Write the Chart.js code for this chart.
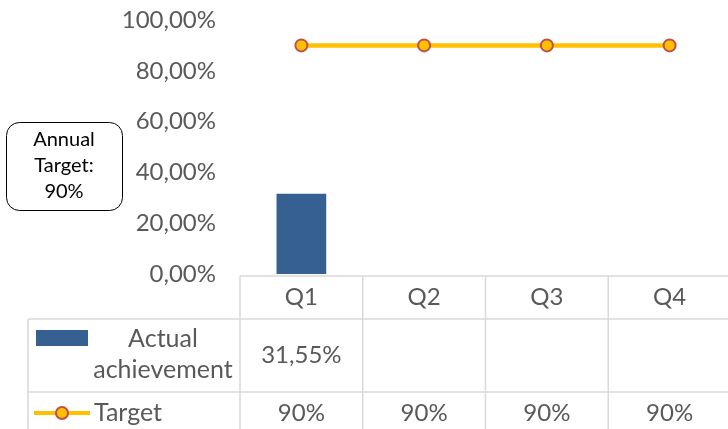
<!DOCTYPE html>
<html>
<head>
<meta charset="utf-8">
<script src="https://cdn.jsdelivr.net/npm/chart.js@4/dist/chart.umd.min.js"></script>
<style>
  html, body { margin: 0; padding: 0; background: #fff; overflow: hidden; }
  #wrap { width: 728px; height: 429px; position: relative; overflow: hidden; }
  #chart { width: 739px; height: 429px; display: block; }
</style>
</head>
<body>
<div id="wrap"><canvas id="chart" width="739" height="429"></canvas></div>
<script>
const quarters = ['Q1', 'Q2', 'Q3', 'Q4'];
const actual = [31.55, null, null, null];
const target = [90, 90, 90, 90];
const actualLabels = ['31,55%', '', '', ''];
const targetLabels = ['90%', '90%', '90%', '90%'];
const yTicks = [0, 20, 40, 60, 80, 100];

const FONT = 'Lato';
const TEXT = '#595959';
const GRID = '#D9D9D9';
const BLUE = '#365F92';
const GOLD = '#FFC000';
const RED = '#C0504D';

// draws the data table under the plot plus the callout box
const tablePlugin = {
  id: 'dataTable',
  afterDraw(chart) {
    const ctx = chart.ctx;
    const ca = chart.chartArea;
    const x = chart.scales.x;
    const colW = (ca.right - ca.left) / quarters.length;
    const top = ca.bottom + 2;
    const row1 = top + 43;
    const row2 = row1 + 73;
    const bottom = chart.height;
    const tableLeft = 28;

    ctx.save();
    ctx.strokeStyle = GRID;
    ctx.lineWidth = 1.5;
    ctx.beginPath();
    ctx.moveTo(ca.left, top); ctx.lineTo(ca.right, top);
    ctx.moveTo(tableLeft, row1); ctx.lineTo(ca.right, row1);
    ctx.moveTo(tableLeft, row2); ctx.lineTo(ca.right, row2);
    ctx.moveTo(tableLeft, row1); ctx.lineTo(tableLeft, bottom);
    for (let i = 0; i <= quarters.length; i++) {
      const cx = ca.left + i * colW;
      ctx.moveTo(cx, top); ctx.lineTo(cx, bottom);
    }
    ctx.stroke();

    ctx.fillStyle = TEXT;
    ctx.font = '24px ' + FONT;
    ctx.textAlign = 'center';
    ctx.textBaseline = 'middle';
    quarters.forEach((q, i) => {
      const cx = x.getPixelForValue(i);
      ctx.fillText(q, cx, (top + row1) / 2);
      if (actualLabels[i]) ctx.fillText(actualLabels[i], cx, (row1 + row2) / 2);
      ctx.fillText(targetLabels[i], cx, row2 + 21);
    });

    // legend keys
    ctx.font = '25px ' + FONT;
    ctx.fillText('Actual', 163, row1 + 20);
    ctx.fillText('achievement', 163, row1 + 51);
    ctx.fillStyle = BLUE;
    ctx.fillRect(36, row1 + 11, 52, 16);

    ctx.strokeStyle = GOLD;
    ctx.lineWidth = 4;
    ctx.beginPath();
    ctx.moveTo(34, row2 + 21); ctx.lineTo(90, row2 + 21);
    ctx.stroke();
    ctx.beginPath();
    ctx.arc(62, row2 + 21, 6, 0, Math.PI * 2);
    ctx.fillStyle = GOLD;
    ctx.fill();
    ctx.lineWidth = 2;
    ctx.strokeStyle = RED;
    ctx.stroke();
    ctx.fillStyle = TEXT;
    ctx.textAlign = 'left';
    ctx.fillText('Target', 94, row2 + 21);

    // callout
    ctx.beginPath();
    ctx.roundRect(6.5, 122.5, 116, 88, 13);
    ctx.fillStyle = '#fff';
    ctx.fill();
    ctx.strokeStyle = '#000';
    ctx.lineWidth = 1;
    ctx.stroke();
    ctx.fillStyle = '#000';
    ctx.font = '20px ' + FONT;
    ctx.textAlign = 'center';
    ctx.fillText('Annual', 64, 140);
    ctx.fillText('Target:', 64, 166);
    ctx.fillText('90%', 64, 192);
    ctx.restore();
  }
};

function noPad(scale) {
  scale.paddingTop = 0;
  scale.paddingBottom = 0;
  scale.paddingLeft = 0;
  scale.paddingRight = 0;
}

new Chart(document.getElementById('chart'), {
  type: 'bar',
  data: {
    labels: quarters,
    datasets: [
      {
        type: 'line',
        label: 'Target',
        data: target,
        borderColor: GOLD,
        borderWidth: 4.5,
        backgroundColor: GOLD,
        pointBackgroundColor: GOLD,
        pointBorderColor: RED,
        pointBorderWidth: 2,
        pointRadius: 6,
        order: 0
      },
      {
        label: 'Actual achievement',
        data: actual,
        backgroundColor: BLUE,
        barPercentage: 0.405,
        categoryPercentage: 1,
        order: 1
      }
    ]
  },
  options: {
    responsive: false,
    animation: false,
    layout: { padding: { top: 20, bottom: 155, left: 0, right: 1 } },
    plugins: { legend: { display: false }, tooltip: { enabled: false } },
    scales: {
      x: { display: false, afterFit: noPad },
      y: {
        min: 0,
        max: 100,
        afterFit(scale) { scale.width = 240; noPad(scale); },
        afterBuildTicks(scale) { scale.ticks = yTicks.map(v => ({ value: v })); },
        grid: { display: false, drawTicks: false },
        border: { display: false },
        ticks: {
          padding: 24,
          color: TEXT,
          font: { family: FONT, size: 24 },
          callback: v => v.toFixed(2).replace('.', ',') + '%'
        }
      }
    }
  },
  plugins: [tablePlugin]
});
</script>
</body>
</html>
